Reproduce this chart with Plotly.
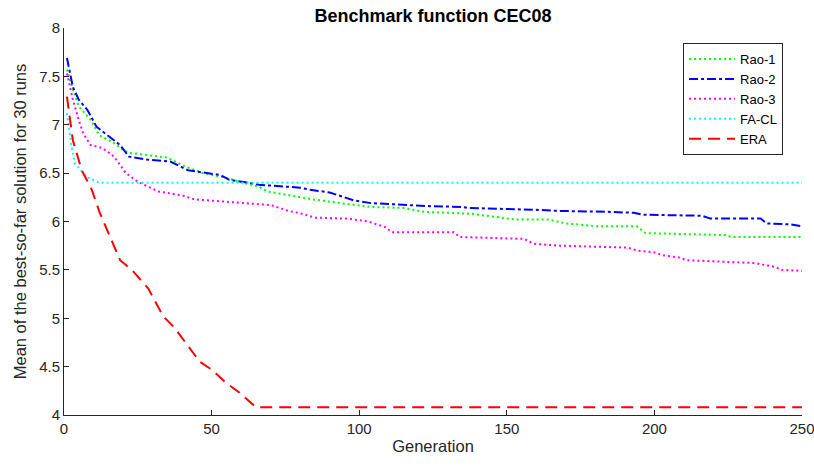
import plotly.graph_objects as go

# Rao-1 (green dotted)
rao1_gen = [1, 3, 5, 9, 12, 17, 20, 22, 35, 41, 47, 55, 62, 66, 69, 78, 84, 96, 104, 115, 122, 138, 153, 164, 170, 181, 194, 197, 224, 226, 250]
rao1_val = [7.57, 7.36, 7.19, 7.05, 6.89, 6.81, 6.74, 6.71, 6.66, 6.57, 6.50, 6.45, 6.39, 6.36, 6.31, 6.26, 6.23, 6.18, 6.15, 6.14, 6.10, 6.08, 6.02, 6.02, 5.98, 5.95, 5.95, 5.88, 5.86, 5.84, 5.84]

# Rao-2 (blue dash-dot)
rao2_gen = [1, 3, 5, 8, 11, 16, 19, 22, 28, 36, 42, 53, 56, 63, 66, 80, 83, 90, 95, 98, 104, 115, 123, 135, 137, 161, 167, 184, 193, 196, 216, 219, 236, 238, 246, 250]
rao2_val = [7.69, 7.39, 7.26, 7.15, 6.98, 6.86, 6.79, 6.67, 6.64, 6.62, 6.53, 6.48, 6.43, 6.40, 6.38, 6.35, 6.33, 6.30, 6.25, 6.22, 6.19, 6.17, 6.16, 6.15, 6.14, 6.12, 6.11, 6.10, 6.09, 6.07, 6.06, 6.03, 6.03, 5.98, 5.97, 5.95]

# Rao-3 (magenta dotted)
rao3_gen = [1, 2, 3, 5, 6.5, 9, 13, 17, 21, 25, 32, 40, 44, 48, 58, 63, 70, 76, 80, 85, 96, 103, 109, 111, 132, 134, 156, 159, 164, 168, 191, 194, 200, 203, 208, 211, 234, 237, 241, 243, 250]
rao3_val = [7.53, 7.39, 7.26, 7.05, 6.91, 6.79, 6.76, 6.67, 6.50, 6.41, 6.31, 6.27, 6.23, 6.22, 6.20, 6.19, 6.17, 6.11, 6.085, 6.04, 6.03, 6.00, 5.94, 5.89, 5.89, 5.84, 5.82, 5.77, 5.76, 5.75, 5.73, 5.70, 5.68, 5.65, 5.63, 5.60, 5.57, 5.55, 5.53, 5.50, 5.49]

# FA-CL (cyan dotted)
facl_gen = [1, 2.6, 3.7, 7.7, 12, 250]
facl_val = [7.12, 6.77, 6.60, 6.46, 6.40, 6.40]

# ERA (red dashed)
era_gen = [1, 2, 3, 6, 9.4, 12, 19, 23, 28.5, 33.6, 37.5, 46, 50, 55, 59.5, 65, 250]
era_val = [7.29, 7.05, 6.84, 6.53, 6.33, 6.10, 5.60, 5.50, 5.31, 5.02, 4.90, 4.55, 4.47, 4.33, 4.23, 4.08, 4.08]

x_ticks = [0, 50, 100, 150, 200, 250]
y_ticks = [4, 4.5, 5, 5.5, 6, 6.5, 7, 7.5, 8]

series = [
    ("Rao-1", rao1_gen, rao1_val, "#00ff00", "2px,3px"),
    ("Rao-2", rao2_gen, rao2_val, "#0000ff", "dashdot"),
    ("Rao-3", rao3_gen, rao3_val, "#ff00ff", "2px,3px"),
    ("FA-CL", facl_gen, facl_val, "#00ffff", "2px,3px"),
    ("ERA", era_gen, era_val, "#ff0000", "12px,7px"),
]

fig = go.Figure()
for name, xs, ys, col, dash in series:
    fig.add_trace(go.Scatter(x=xs, y=ys, mode="lines", name=name,
                             line=dict(color=col, dash=dash, width=2)))

axcol = "#262626"
fig.update_layout(
    width=814, height=467,
    margin=dict(l=64, r=12, t=28, b=52),
    paper_bgcolor="white", plot_bgcolor="white",
    font=dict(family="Liberation Sans, Arial, sans-serif", size=15, color=axcol),
    title=dict(text="<b>Benchmark function CEC08</b>", x=0.5, xanchor="center",
               xref="paper", yref="container", y=1 - 16 / 467, yanchor="middle",
               font=dict(size=18, color="black")),
    showlegend=True,
    legend=dict(x=0.8388, y=0.961, xanchor="left", yanchor="top",
                bordercolor=axcol, borderwidth=1, bgcolor="white",
                font=dict(size=13, color="black"), tracegroupgap=0, itemwidth=46),
)
fig.update_xaxes(range=[0, 250], tickvals=x_ticks, showline=True, linecolor=axcol,
                 linewidth=1, ticks="inside", ticklen=5, tickcolor=axcol,
                 showgrid=False, zeroline=False, mirror=False, automargin=False,
                 ticklabeloverflow="allow",
                 title=dict(text="Generation", standoff=4, font=dict(size=16.5)))
fig.update_yaxes(range=[4, 8], tickvals=y_ticks, showline=True, linecolor=axcol,
                 linewidth=1, ticks="inside", ticklen=5, tickcolor=axcol,
                 showgrid=False, zeroline=False, mirror=False, automargin=False,
                 ticklabeloverflow="allow",
                 title=dict(text="Mean of the best-so-far solution for 30 runs",
                            standoff=8, font=dict(size=16.5)))
fig.write_html("out.html", config={"displayModeBar": False},
               post_script="document.body.style.margin='0';document.body.style.overflow='hidden';")
